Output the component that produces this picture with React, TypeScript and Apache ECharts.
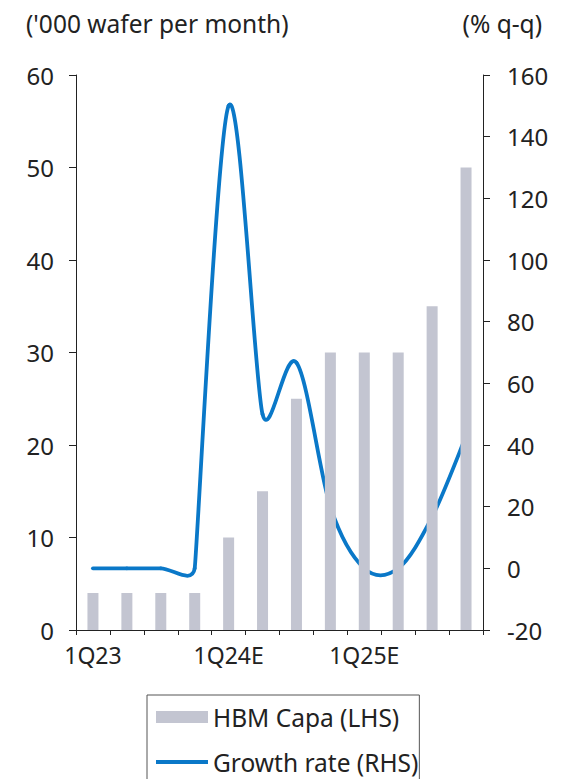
import React, { useEffect, useRef } from "react";
import * as echarts from "echarts";

// Quarterly HBM capacity and its quarter-on-quarter growth
const categories = ["1Q23", "2Q23", "3Q23", "4Q23", "1Q24E", "2Q24E", "3Q24E", "4Q24E", "1Q25E", "2Q25E", "3Q25E", "4Q25E"];
const hbmCapa = [4, 4, 4, 4, 10, 15, 25, 30, 30, 30, 35, 50];
const growthRate = [0, 0, 0, 0, 150, 50, 66.7, 20, 0, 0, 16.7, 42.9];

const FONT = "Noto Sans";
const TEXT = "#222222";
const AXIS = "#222222";
const BAR = "#c3c5d1";
const LINE = "#0a78c8";

type Pt = [number, number];

// Tangent arm of a spreadsheet-style smoothed line: one sixth of the chord
// between neighbours, shortened so it never exceeds half of the shorter
// adjacent segment.
function arm(pts: Pt[], i: number): Pt {
  const n = pts.length;
  const p = pts[i];
  const prev = pts[Math.max(i - 1, 0)];
  const next = pts[Math.min(i + 1, n - 1)];
  const vx = next[0] - prev[0];
  const vy = next[1] - prev[1];
  const len = Math.hypot(vx, vy);
  if (len === 0) return [0, 0];
  const segs: number[] = [];
  if (i > 0) segs.push(Math.hypot(p[0] - prev[0], p[1] - prev[1]));
  if (i < n - 1) segs.push(Math.hypot(next[0] - p[0], next[1] - p[1]));
  const limit = Math.min(...segs) / 2;
  let f = 1 / 6;
  if (len * f > limit) f = limit / len;
  return [vx * f, vy * f];
}

export default function App() {
  const ref = useRef<HTMLDivElement>(null);

  useEffect(() => {
    if (!ref.current) return;
    const chart = echarts.init(ref.current, undefined, { renderer: "svg" });

    const renderGrowth = (params: any, api: any) => {
      const i = params.dataIndex;
      if (i >= growthRate.length - 1) return null;
      const pts: Pt[] = growthRate.map((v, k) => api.coord([k, v]) as Pt);
      const a0 = arm(pts, i);
      const a1 = arm(pts, i + 1);
      const p0 = pts[i];
      const p1 = pts[i + 1];
      const d =
        `M${p0[0]},${p0[1]} C${p0[0] + a0[0]},${p0[1] + a0[1]} ` +
        `${p1[0] - a1[0]},${p1[1] - a1[1]} ${p1[0]},${p1[1]}`;
      return {
        type: "path",
        shape: { pathData: d },
        style: { fill: "none", stroke: LINE, lineWidth: 3.8, lineCap: "round", lineJoin: "round" },
      };
    };

    chart.setOption({
      animation: false,
      backgroundColor: "#ffffff",
      textStyle: { fontFamily: FONT, color: TEXT },
      title: [
        {
          text: "('000 wafer per month)",
          left: 21,
          top: 6,
          textStyle: { fontFamily: FONT, fontSize: 24.5, fontWeight: "normal", color: TEXT },
        },
        {
          text: "(% q-q)",
          right: 19,
          top: 6,
          textStyle: { fontFamily: FONT, fontSize: 24.5, fontWeight: "normal", color: TEXT },
        },
      ],
      grid: { left: 76, right: 83, top: 75, bottom: 149, containLabel: false },
      legend: {
        orient: "vertical",
        left: 147,
        top: 695,
        height: 200,
        itemWidth: 52,
        itemHeight: 12,
        itemGap: 17,
        padding: [8, 1, 30, 9],
        borderColor: "#555555",
        borderWidth: 1,
        textStyle: { fontFamily: FONT, fontSize: 24.5, lineHeight: 28, color: TEXT },
        data: [
          { name: "HBM Capa (LHS)", icon: "rect", itemStyle: { color: BAR } },
          { name: "Growth rate (RHS)", icon: "path://M0,0H52V3.8H0Z", itemStyle: { color: LINE } },
        ],
      },
      xAxis: {
        type: "category",
        data: categories,
        boundaryGap: true,
        axisLine: { show: true, lineStyle: { color: AXIS, width: 1 } },
        axisTick: { show: true, interval: 0, length: 5, lineStyle: { color: AXIS } },
        axisLabel: { interval: 3, margin: 13, fontFamily: FONT, fontSize: 23, color: TEXT },
        splitLine: { show: false },
      },
      yAxis: [
        {
          type: "value",
          position: "left",
          min: 0,
          max: 60,
          interval: 10,
          axisLine: { show: true, lineStyle: { color: AXIS, width: 1 } },
          axisTick: { show: true, length: 7, lineStyle: { color: AXIS } },
          axisLabel: { margin: 22, fontFamily: FONT, fontSize: 24, color: TEXT },
          splitLine: { show: false },
        },
        {
          type: "value",
          position: "right",
          min: -20,
          max: 160,
          interval: 20,
          axisLine: { show: true, lineStyle: { color: AXIS, width: 1 } },
          axisTick: { show: true, length: 7, lineStyle: { color: AXIS } },
          axisLabel: { margin: 24, fontFamily: FONT, fontSize: 24, color: TEXT },
          splitLine: { show: false },
        },
      ],
      series: [
        {
          name: "HBM Capa (LHS)",
          type: "bar",
          yAxisIndex: 0,
          data: hbmCapa,
          barWidth: 11,
          itemStyle: { color: BAR },
        },
        {
          name: "Growth rate (RHS)",
          type: "custom",
          coordinateSystem: "cartesian2d",
          yAxisIndex: 1,
          data: growthRate.map((v, k) => [k, v]),
          encode: { x: 0, y: 1 },
          clip: false,
          itemStyle: { color: LINE },
          renderItem: renderGrowth,
        },
      ],
    });
    return () => chart.dispose();
  }, []);

  return (
    <div
      ref={ref}
      style={{ position: "absolute", left: 0, top: 0, width: 566, height: 779 }}
    />
  );
}
